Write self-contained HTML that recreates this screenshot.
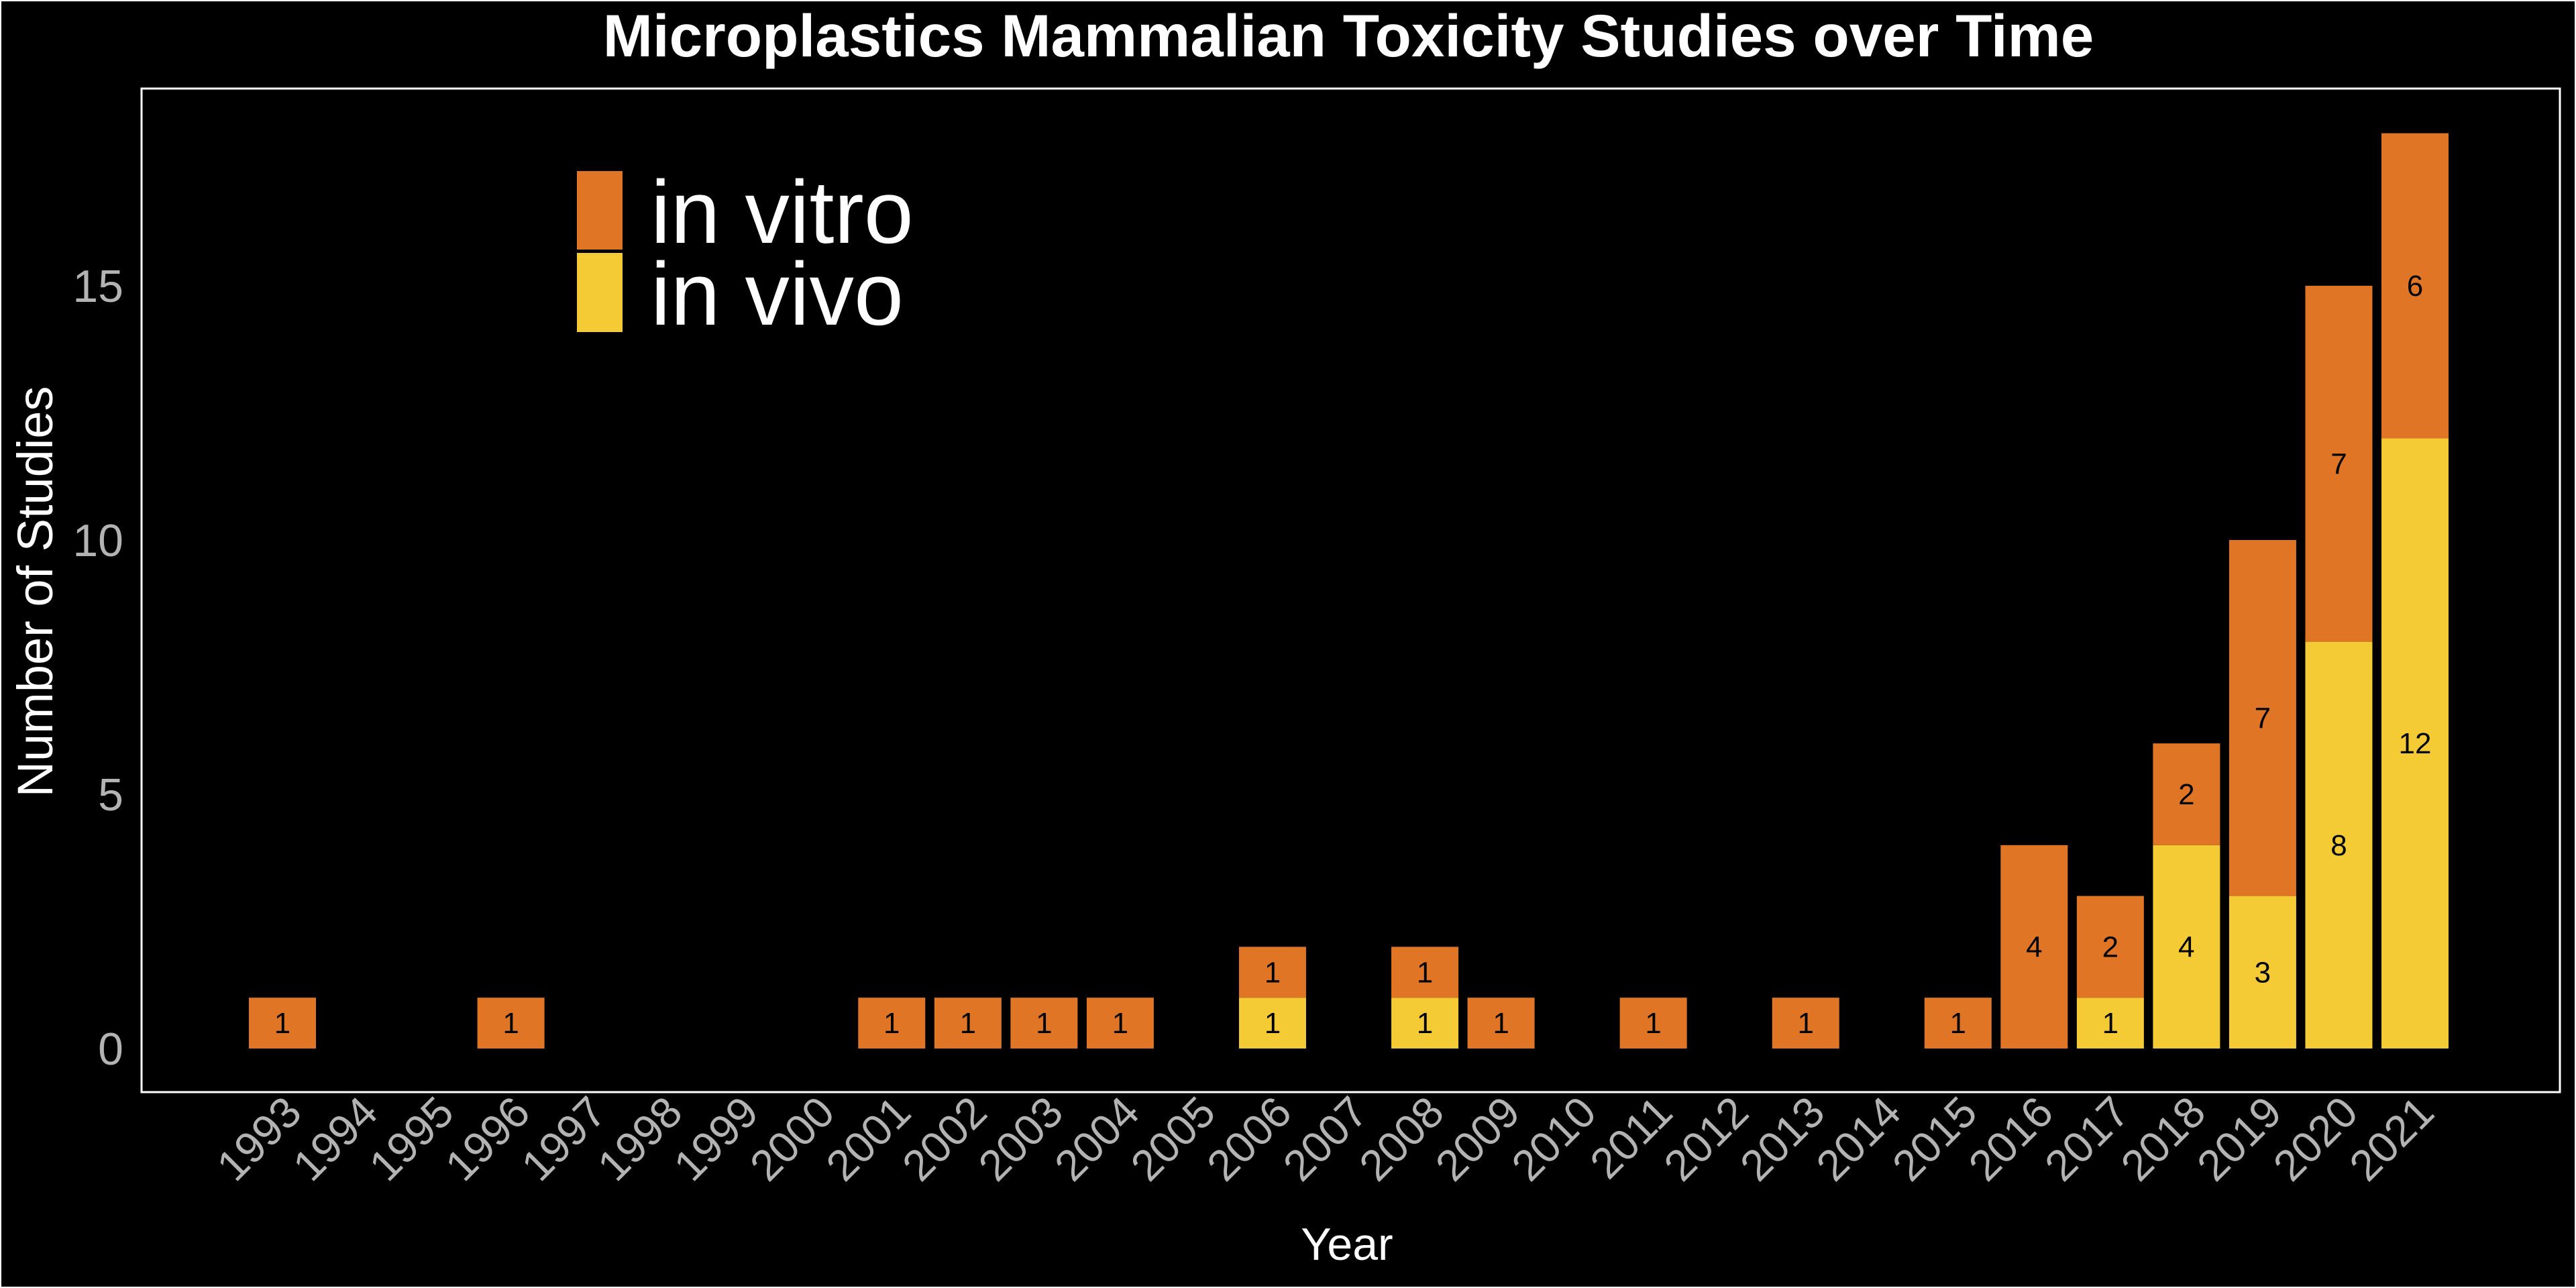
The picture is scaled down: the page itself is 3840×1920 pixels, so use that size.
<!DOCTYPE html>
<html><head><meta charset="utf-8"><style>
html,body{margin:0;padding:0;background:#000;}
svg{display:block;font-family:"Liberation Sans",Arial,sans-serif;}
</style></head><body>
<svg id="chart" width="3840" height="1920" viewBox="0 0 3840 1920" xmlns="http://www.w3.org/2000/svg">
<rect x="1" y="1" width="3838" height="1918" fill="#000" stroke="#fff" stroke-width="2"/>
<text x="2010" y="84" fill="#fff" font-size="89" font-weight="bold" text-anchor="middle">Microplastics Mammalian Toxicity Studies over Time</text>
<rect x="211" y="132" width="3605" height="1496" fill="none" stroke="#fff" stroke-width="3"/>
<g id="bars"></g>
<g id="yticks"></g>
<g id="xticks"></g>
<text transform="translate(78,882) rotate(-90)" fill="#fff" font-size="74" text-anchor="middle">Number of Studies</text>
<text x="2008" y="1878" fill="#fff" font-size="68" text-anchor="middle">Year</text>
<g>
<rect x="860" y="255" width="68" height="117" fill="#E07526"/>
<rect x="860" y="377" width="68" height="118" fill="#F5CB35"/>
<text x="970" y="362" fill="#fff" font-size="133">in vitro</text>
<text x="970" y="484" fill="#fff" font-size="133">in vivo</text>
</g>
</svg>
<script>
const years = ["1993","1994","1995","1996","1997","1998","1999","2000","2001","2002","2003","2004","2005","2006","2007","2008","2009","2010","2011","2012","2013","2014","2015","2016","2017","2018","2019","2020","2021"];
const inVitro = [1,0,0,1,0,0,0,0,1,1,1,1,0,1,0,1,1,0,1,0,1,0,1,4,2,2,7,7,6];
const inVivo  = [0,0,0,0,0,0,0,0,0,0,0,0,0,1,0,1,0,0,0,0,0,0,0,0,1,4,3,8,12];
const yTicks = [0,5,10,15];

const NS="http://www.w3.org/2000/svg";
const x0=421, step=(3600-421)/28, bw=100;
const y0=1563, yUnit=(1563-426)/15;
const xPos=i=>x0+i*step;
const yPos=v=>y0-v*yUnit;
function mk(tag,attrs,parent){const e=document.createElementNS(NS,tag);for(const k in attrs)e.setAttribute(k,attrs[k]);parent.appendChild(e);return e;}
const bars=document.getElementById('bars');
years.forEach((yr,i)=>{
  const cx=xPos(i);
  const segs=[[inVivo[i],0,'#F5CB35','in-vivo'],[inVitro[i],inVivo[i],'#E07526','in-vitro']];
  segs.forEach(([v,base,col,nm])=>{
    if(v<=0)return;
    const r=mk('rect',{x:cx-bw/2,y:yPos(base+v),width:bw,height:v*yUnit,fill:col},bars);
    
    
    const t=mk('text',{x:cx,y:yPos(base+v/2)+15,'font-size':44,'text-anchor':'middle',fill:'#000'},bars);
    t.textContent=v;
    
    
  });
});
const yt=document.getElementById('yticks');
yTicks.forEach(v=>{
  const t=mk('text',{x:184,y:yPos(v)+24,'font-size':68,'text-anchor':'end',fill:'#b3b3b3'},yt);
  t.textContent=v;
  
  
});
const xt=document.getElementById('xticks');
years.forEach((yr,i)=>{
  const t=mk('text',{transform:`translate(${xPos(i)+32},1662) rotate(-45)`,'font-size':65,'text-anchor':'end',fill:'#b3b3b3'},xt);
  t.textContent=yr;
  
  
});
</script>
</body></html>
